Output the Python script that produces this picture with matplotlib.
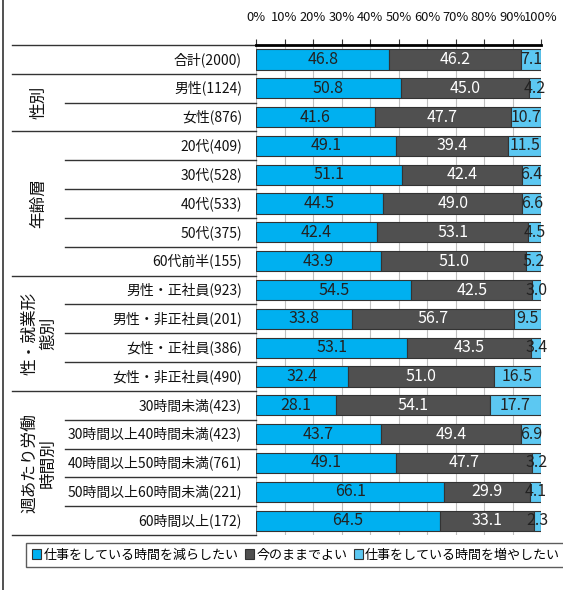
import matplotlib
matplotlib.use("Agg")
import matplotlib.pyplot as plt
from matplotlib.patches import Patch
from matplotlib.lines import Line2D
from matplotlib.transforms import blended_transform_factory

plt.rcParams['font.family'] = ['Noto Sans CJK JP', 'DejaVu Sans']

# row labels, top to bottom
labels = [
    "合計(2000)",
    "男性(1124)", "女性(876)",
    "20代(409)", "30代(528)", "40代(533)", "50代(375)", "60代前半(155)",
    "男性・正社員(923)", "男性・非正社員(201)", "女性・正社員(386)", "女性・非正社員(490)",
    "30時間未満(423)", "30時間以上40時間未満(423)", "40時間以上50時間未満(761)",
    "50時間以上60時間未満(221)", "60時間以上(172)",
]
reduce_vals = [46.8, 50.8, 41.6, 49.1, 51.1, 44.5, 42.4, 43.9,
               54.5, 33.8, 53.1, 32.4, 28.1, 43.7, 49.1, 66.1, 64.5]
keep_vals = [46.2, 45.0, 47.7, 39.4, 42.4, 49.0, 53.1, 51.0,
             42.5, 56.7, 43.5, 51.0, 54.1, 49.4, 47.7, 29.9, 33.1]
increase_vals = [7.1, 4.2, 10.7, 11.5, 6.4, 6.6, 4.5, 5.2,
                 3.0, 9.5, 3.4, 16.5, 17.7, 6.9, 3.2, 4.1, 2.3]
series_names = ["仕事をしている時間を減らしたい", "今のままでよい", "仕事をしている時間を増やしたい"]

# groups: (label, first row, last row)
groups = [
    ("性別", 1, 2),
    ("年齢層", 3, 7),
    ("性・就業形\n態別", 8, 11),
    ("週あたり労働\n時間別", 12, 16),
]

colors = ["#00B0F0", "#505050", "#5CC8F2"]
text_colors = ["#222222", "white", "#222222"]

W, H = 563, 590
fig = plt.figure(figsize=(W / 100, H / 100), dpi=100)
ax = fig.add_axes([256 / W, 1 - 535 / H, (541 - 256) / W, (535 - 45) / H])

n = len(labels)
ys = list(range(n))
left = [0.0] * n
for vals, col, tcol in zip([reduce_vals, keep_vals, increase_vals], colors, text_colors):
    ax.barh(ys, vals, left=left, height=0.7, color=col, edgecolor="#333333",
            linewidth=0.8, zorder=3)
    for y, l, v in zip(ys, left, vals):
        ax.text(l + v / 2, y, f"{v:.1f}", ha="center", va="center",
                color=tcol, fontsize=11.5, zorder=4)
    left = [a + b for a, b in zip(left, vals)]

ax.set_xlim(0, 100)
ax.set_ylim(n - 0.5, -0.5)
ax.set_xticks(range(0, 101, 10))
ax.set_xticklabels([f"{t}%" for t in range(0, 101, 10)])
ax.xaxis.tick_top()
ax.tick_params(axis="x", direction="out", length=4, width=0.8, pad=11,
               labelsize=9.3, colors="#333333", labelcolor="#111111")
ax.set_yticks([])
ax.grid(axis="x", color="#BFBFBF", linewidth=0.8, zorder=0)
for s in ["left", "right", "bottom"]:
    ax.spines[s].set_visible(False)
ax.spines["top"].set_linewidth(2)
ax.spines["top"].set_color("black")

# table on the left
tr = blended_transform_factory(fig.transFigure, ax.transData)
x_table = 12 / W
x_inner = 65 / W
x_end = 256 / W
for i, lab in enumerate(labels):
    ax.text(242 / W, i, lab, transform=tr, ha="right", va="center",
            fontsize=10, color="#111111")

group_bounds = {-0.5, 0.5, n - 0.5}
for _, a, b in groups:
    group_bounds.add(a - 0.5)
    group_bounds.add(b + 0.5)
for yb in sorted(group_bounds):
    ax.plot([x_table, x_end], [yb, yb], transform=tr, color="#333333",
            linewidth=1.0, clip_on=False)
for name, a, b in groups:
    for yb in range(a, b):
        ax.plot([x_inner, x_end], [yb + 0.5, yb + 0.5], transform=tr,
                color="#333333", linewidth=1.0, clip_on=False)
    ax.text(39 / W, (a + b) / 2, name, transform=tr, rotation=90,
            ha="center", va="center", fontsize=12, color="#111111",
            linespacing=1.15, multialignment="center")

# outer frame line on the left
fig.add_artist(Line2D([3 / W, 3 / W], [0, 1], transform=fig.transFigure,
                      color="#333333", linewidth=1.2))

handles = [Patch(facecolor=c, edgecolor="#333333", linewidth=0.8) for c in colors]
leg = fig.legend(handles, series_names, loc="center", ncol=3,
                 bbox_to_anchor=(296 / W, 1 - 555 / H), fontsize=9.4,
                 frameon=True, fancybox=False, edgecolor="#333333",
                 handlelength=0.7, handleheight=0.7, handletextpad=0.15,
                 columnspacing=0.5, borderpad=0.45, borderaxespad=0)
leg.get_frame().set_linewidth(1.0)

fig.savefig("out.png", dpi=100)
